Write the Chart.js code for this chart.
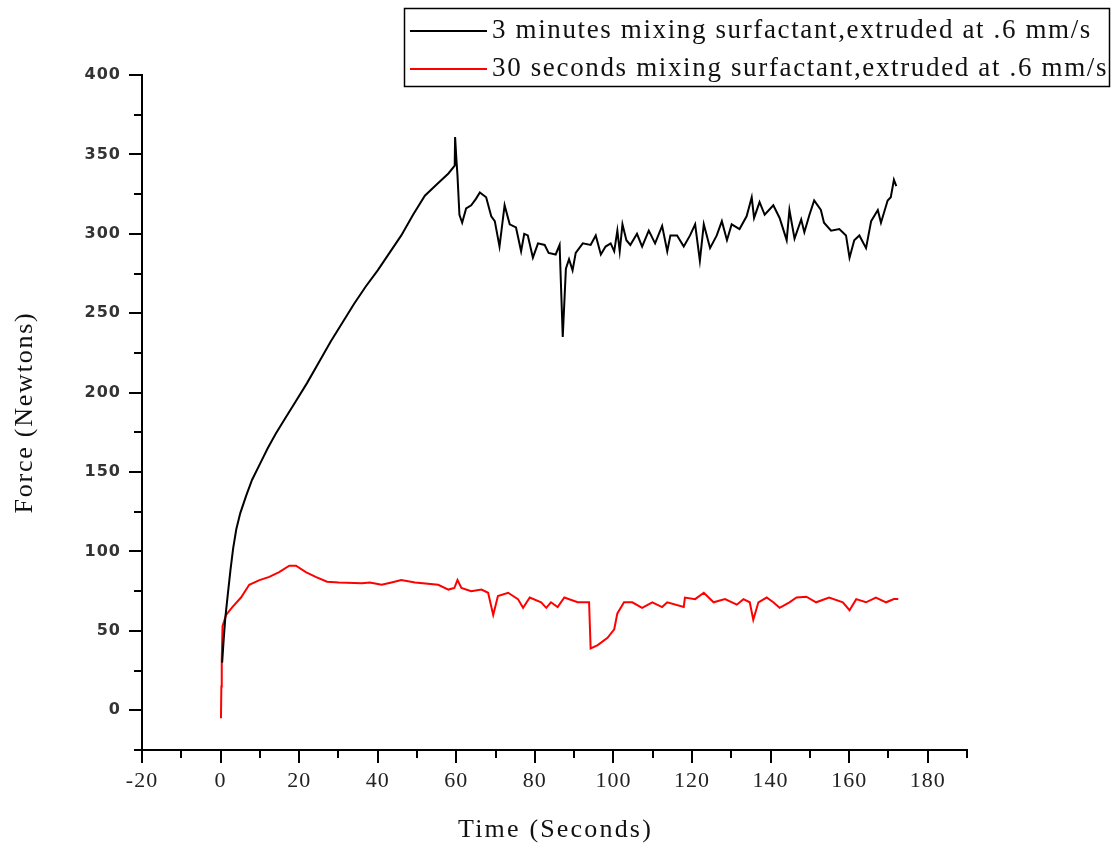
<!DOCTYPE html>
<html>
<head>
<meta charset="utf-8">
<script src="https://cdn.jsdelivr.net/npm/chart.js@4.4.1/dist/chart.umd.min.js"></script>
<style>
html,body{margin:0;padding:0;background:#fff;}
#wrap{width:1113px;height:846px;}
</style>
</head>
<body>
<div id="wrap"><canvas id="c" width="1113" height="846"></canvas></div>
<script>
// ---- data ----
const seriesLabels = [
  "3 minutes mixing surfactant,extruded at .6 mm/s",
  "30 seconds mixing surfactant,extruded at .6 mm/s"
];
const seriesColors = ["#000000", "#ff0000"];

const blackTime = [0.4,0.8,1.2,1.8,2.5,3.2,4.0,5.0,6.5,8,10,12,14,16.5,19,22,25,28,31,34,37,40,43,46,49,52,55,58,59.6,59.7,60.0,60.3,60.8,61.5,62.5,63.8,65,66,67.6,68.9,69.8,71,72.3,73.6,75.2,76.5,77.3,78.2,79.5,80.8,82.5,83.5,85.3,86.3,87.1,87.9,88.7,89.6,90.4,92.2,94.2,95.5,96.8,98,99.3,100.2,101,101.6,102.3,103.3,104.3,106,107.3,109,110.6,112.4,113.7,114.5,116.2,117.9,119.5,120.8,122,123,124.6,126.3,127.6,128.9,130.1,132.1,133.9,135.2,135.8,137.2,138.5,140.7,142.3,144.1,144.8,146.1,147.8,148.6,149.9,151.1,152.8,153.6,155.4,157.5,159.2,160.1,161.3,162.6,164.3,165.6,167.3,168.1,169.8,170.6,171.4,172];
const blackForce = [30,45,58,72,88,102,114,124,135,145,155,165,174,184,194,206,219,232,244,256,267,277,288,299,312,324,331,338,343,361,348,337,312,307,316,318,322,326,323,311,308,292,318,306,304,289,300,299,285,294,293,288,287,293,235,278,284,277,288,294,293,299,287,292,294,289,302,289,306,296,293,300,292,302,294,305,289,299,299,292,299,306,283,306,291,299,308,296,306,303,311,323,310,320,312,318,310,296,315,297,309,301,312,321,315,307,302,303,299,285,296,299,291,308,315,307,321,323,334,330];

const redTime = [0.1,0.2,0.3,0.5,1.4,3,5.2,7.3,9.9,12.4,14.9,17.5,19.2,21.7,24.2,27.1,30.1,36,38,41,43.5,46,49.5,55.4,58,59.5,60.3,61.3,63.8,66.4,68.1,69.4,70.6,73.2,75.7,77,78.7,81.6,82.9,84.1,85.8,87.5,90.9,93.8,94.2,96,98.5,100.2,101,102.7,104.8,107.3,109.9,112.4,113.7,117.9,118.2,120.8,123,125.5,128.4,131.4,133.1,134.7,135.6,136.9,139,140.7,142.3,144.8,146.6,149.1,151.6,154.9,158.4,160.1,161.8,164.3,166.8,169.4,171.4,172.5];
const redForce = [-5,15,32,53,60,65,71,79,82,84,87,91,91,87,84,81,80.5,80,80.5,79,80.5,82,80.5,79,76,77,82,77,75,76,74,60,72,74,70,64.5,71,68,64.5,68,65,71,68,68,39,41,45.6,51,61,68,68,64.5,68,65,68,65,71,70,74,68,70,66.5,70,68,57,68,71,68,64.5,68,71,71.5,68,71,68,63,70,68,71,68,70,70];

const xTickLabels = [-20,0,20,40,60,80,100,120,140,160,180];
const yTickLabels = [0,50,100,150,200,250,300,350,400];
const xTitle = "Time (Seconds)";
const yTitle = "Force (Newtons)";

// ---- helpers ----
function pts(xs, ys){ return xs.map((x,i)=>({x:x, y:ys[i]})); }
function fitText(ctx, text, target){
  ctx.letterSpacing = '0px';
  const w = ctx.measureText(text).width;
  const ls = (target - w) / text.length;
  ctx.letterSpacing = ls.toFixed(2) + 'px';
}

const decoPlugin = {
  id: 'deco',
  beforeDraw(chart){
    chart.ctx.letterSpacing = '1px';
  },
  afterDraw(chart){
    const ctx = chart.ctx;
    const xs = chart.scales.x, ys = chart.scales.y;
    const area = chart.chartArea;
    ctx.save();
    ctx.letterSpacing = '0px';
    ctx.strokeStyle = '#000';
    ctx.lineWidth = 2;
    // y ticks (major every 50, minor every 25)
    for (let v = ys.min; v <= ys.max + 0.001; v += 25){
      const p = Math.round(ys.getPixelForValue(v));
      const len = (Math.abs(v % 50) < 0.001) ? 13 : 8;
      ctx.beginPath(); ctx.moveTo(area.left - len, p); ctx.lineTo(area.left, p); ctx.stroke();
    }
    // x ticks (major every 20, minor every 10)
    for (let v = xs.min; v <= xs.max + 0.001; v += 10){
      const p = Math.round(xs.getPixelForValue(v));
      const len = (Math.abs(v % 20) < 0.001) ? 13 : 8;
      ctx.beginPath(); ctx.moveTo(p, area.bottom); ctx.lineTo(p, area.bottom + len); ctx.stroke();
    }
    // axis titles
    ctx.fillStyle = '#111';
    ctx.font = '26px "Liberation Serif", "Times New Roman", serif';
    ctx.textAlign = 'center';
    ctx.textBaseline = 'middle';
    fitText(ctx, xTitle, 195);
    ctx.fillText(xTitle, (area.left + area.right) / 2 + 1, 830);
    ctx.save();
    ctx.translate(25, (area.top + area.bottom) / 2);
    ctx.rotate(-Math.PI / 2);
    fitText(ctx, yTitle, 202);
    ctx.fillText(yTitle, 0, 0);
    ctx.restore();
    // legend
    ctx.lineWidth = 1.5;
    ctx.strokeStyle = '#000';
    ctx.strokeRect(404.5, 8.5, 705, 78);
    const rows = [31, 69];
    const widths = [600, 616];
    ctx.font = '27px "Liberation Serif", "Times New Roman", serif';
    ctx.textAlign = 'left';
    chart.data.datasets.forEach((ds, i) => {
      ctx.strokeStyle = ds.borderColor;
      ctx.lineWidth = 2;
      ctx.beginPath(); ctx.moveTo(410, rows[i]); ctx.lineTo(487, rows[i]); ctx.stroke();
      ctx.fillStyle = '#111';
      fitText(ctx, ds.label, widths[i]);
      ctx.fillText(ds.label, 492, rows[i]);
    });
    ctx.restore();
  }
};

new Chart(document.getElementById('c'), {
  type: 'scatter',
  data: {
    datasets: [
      { label: seriesLabels[0], data: pts(blackTime, blackForce), borderColor: seriesColors[0], backgroundColor: seriesColors[0], showLine: true, borderWidth: 2, pointRadius: 0, tension: 0 },
      { label: seriesLabels[1], data: pts(redTime, redForce), borderColor: seriesColors[1], backgroundColor: seriesColors[1], showLine: true, borderWidth: 2, pointRadius: 0, tension: 0 }
    ]
  },
  options: {
    responsive: false,
    animation: false,
    devicePixelRatio: 1,
    layout: { padding: { top: 75, right: 146, left: 0, bottom: 0 } },
    plugins: { legend: { display: false }, tooltip: { enabled: false } },
    scales: {
      x: {
        type: 'linear', min: -20, max: 190,
        afterBuildTicks: s => { s.ticks = xTickLabels.map(v => ({ value: v })); },
        afterFit: s => { s.height = 96; },
        grid: { display: false, drawTicks: true, tickLength: 13 },
        border: { display: true, color: '#000', width: 2 },
        ticks: { color: '#222', padding: 5, maxRotation: 0, autoSkip: false,
                 font: { family: '"Liberation Serif", "Times New Roman", serif', size: 22 } }
      },
      y: {
        type: 'linear', min: -25, max: 400,
        afterBuildTicks: s => { s.ticks = yTickLabels.map(v => ({ value: v })); },
        afterFit: s => { s.width = 142; },
        grid: { display: false, drawTicks: true, tickLength: 13 },
        border: { display: true, color: '#000', width: 2 },
        ticks: { color: '#333', padding: 8, autoSkip: false,
                 font: { family: '"DejaVu Sans", Verdana, sans-serif', size: 16, weight: 'bold' } }
      }
    }
  },
  plugins: [decoPlugin]
});
</script>
</body>
</html>
